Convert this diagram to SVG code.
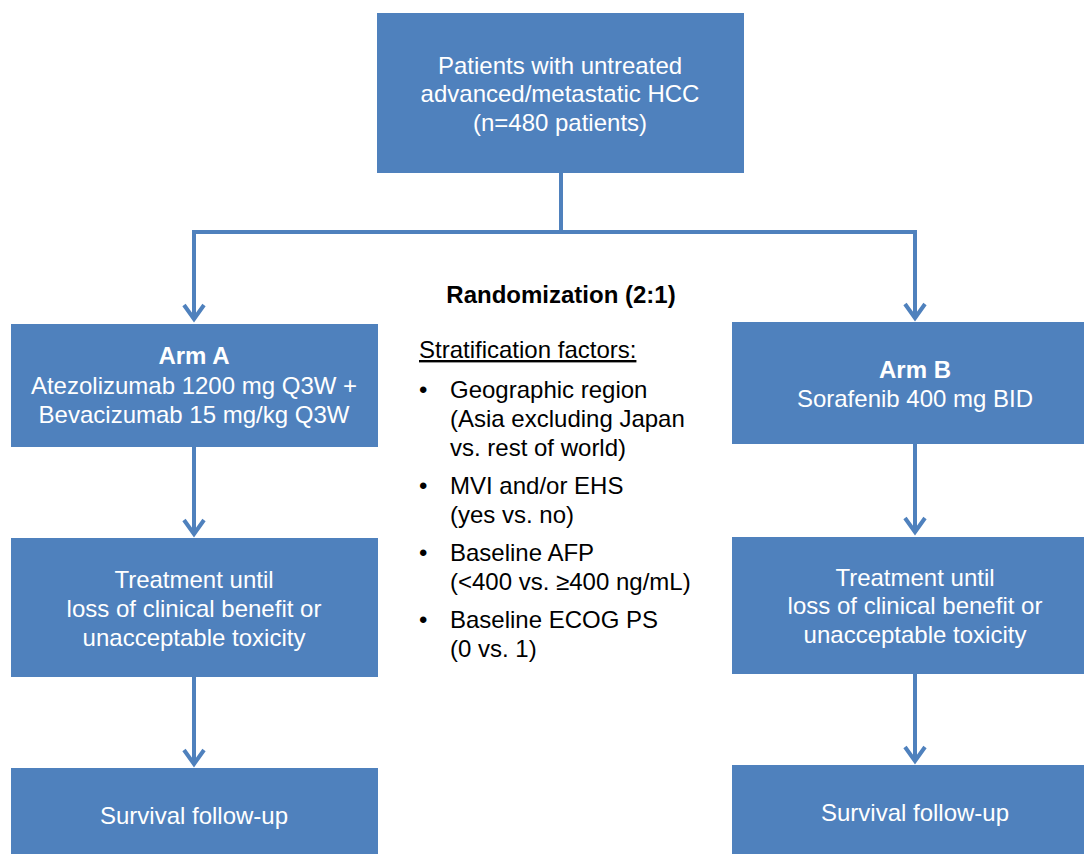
<svg xmlns="http://www.w3.org/2000/svg" width="1084" height="854" viewBox="0 0 1084 854">
<style>
.box{fill:#4f81bd}
.bt{font-family:"Liberation Sans",Arial,sans-serif;font-size:24px;fill:#ffffff;text-anchor:middle}
.mt{font-family:"Liberation Sans",Arial,sans-serif;font-size:24px;fill:#000000}
.b{font-weight:bold}
.conn{fill:none;stroke:#4f81bd;stroke-width:4}
</style>
<defs>
<marker id="arr" markerUnits="userSpaceOnUse" viewBox="-18 -14 22 28" markerWidth="22" markerHeight="28" refX="0" refY="0" orient="auto" overflow="visible">
<path d="M -14 -10 L 0 0 L -14 10" fill="none" stroke="#4f81bd" stroke-width="4" stroke-linejoin="miter"/>
</marker>
</defs>
<rect width="1084" height="854" fill="#ffffff"/>
<g id="connectors">
<path class="conn" d="M 561 173 V 232"/>
<path class="conn" d="M 194 232 H 915"/>
<path class="conn" d="M 194 230 V 319" marker-end="url(#arr)"/>
<path class="conn" d="M 915 230 V 318" marker-end="url(#arr)"/>
<path class="conn" d="M 194 447 V 534" marker-end="url(#arr)"/>
<path class="conn" d="M 194 677 V 764" marker-end="url(#arr)"/>
<path class="conn" d="M 915 444 V 532" marker-end="url(#arr)"/>
<path class="conn" d="M 915 674 V 761" marker-end="url(#arr)"/>
</g>
<g id="top">
<rect class="box" x="377" y="13" width="367" height="160"/>
<text class="bt" x="560" y="74">Patients with untreated</text>
<text class="bt" x="560" y="102">advanced/metastatic HCC</text>
<text class="bt" x="560" y="131">(n=480 patients)</text>
</g>
<g id="armA">
<rect class="box" x="11" y="324" width="367" height="123"/>
<text class="bt b" x="194" y="364">Arm A</text>
<text class="bt" x="194" y="394">Atezolizumab 1200 mg Q3W +</text>
<text class="bt" x="194" y="423">Bevacizumab 15 mg/kg Q3W</text>
</g>
<g id="armB">
<rect class="box" x="732" y="322" width="365" height="122"/>
<text class="bt b" x="915" y="378">Arm B</text>
<text class="bt" x="915" y="407">Sorafenib 400 mg BID</text>
</g>
<g id="treatA">
<rect class="box" x="11" y="538" width="367" height="139"/>
<text class="bt" x="194" y="588">Treatment until</text>
<text class="bt" x="194" y="617">loss of clinical benefit or</text>
<text class="bt" x="194" y="646">unacceptable toxicity</text>
</g>
<g id="treatB">
<rect class="box" x="732" y="537" width="365" height="137"/>
<text class="bt" x="915" y="586">Treatment until</text>
<text class="bt" x="915" y="614">loss of clinical benefit or</text>
<text class="bt" x="915" y="643">unacceptable toxicity</text>
</g>
<g id="survA">
<rect class="box" x="11" y="768" width="367" height="86"/>
<text class="bt" x="194" y="824">Survival follow-up</text>
</g>
<g id="survB">
<rect class="box" x="732" y="765" width="365" height="89"/>
<text class="bt" x="915" y="821">Survival follow-up</text>
</g>
<g id="randomization">
<text class="mt b" x="561" y="303" text-anchor="middle">Randomization (2:1)</text>
<text class="mt" x="419" y="358" text-decoration="underline">Stratification factors:</text>
<text class="mt" x="419" y="398">•</text>
<text class="mt" x="450" y="398">Geographic region</text>
<text class="mt" x="450" y="427">(Asia excluding Japan</text>
<text class="mt" x="450" y="456">vs. rest of world)</text>
<text class="mt" x="419" y="494">•</text>
<text class="mt" x="450" y="494">MVI and/or EHS</text>
<text class="mt" x="450" y="523">(yes vs. no)</text>
<text class="mt" x="419" y="561">•</text>
<text class="mt" x="450" y="561">Baseline AFP</text>
<text class="mt" x="450" y="590">(&lt;400 vs. ≥400 ng/mL)</text>
<text class="mt" x="419" y="628">•</text>
<text class="mt" x="450" y="628">Baseline ECOG PS</text>
<text class="mt" x="450" y="657">(0 vs. 1)</text>
</g>
</svg>
